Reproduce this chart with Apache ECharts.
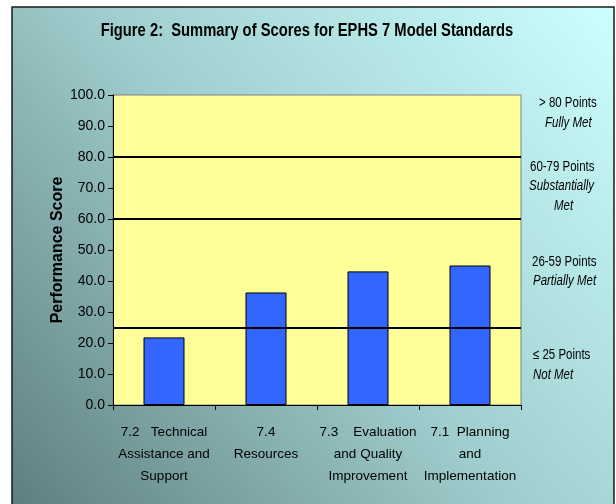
<!DOCTYPE html>
<html>
<head>
<meta charset="utf-8">
<script src="https://cdn.jsdelivr.net/npm/echarts@6/dist/echarts.min.js"></script>
<style>
html,body{margin:0;padding:0;background:#fff;}
#chart{width:616px;height:504px;}
</style>
</head>
<body>
<div id="chart"></div>
<script>
const titleText = 'Figure 2:  Summary of Scores for EPHS 7 Model Standards';
const categories = [
  '7.2   Technical\nAssistance and\nSupport',
  '7.4\nResources',
  '7.3    Evaluation\nand Quality\nImprovement',
  '7.1  Planning\nand\nImplementation'
];
const scores = [21.8, 36.3, 43.1, 45.0];
const thresholds = [25, 60, 80];
const yTicks = {min: 0, max: 100, interval: 10};
const yAxisName = 'Performance Score';
const bandNotes = [
  {text: '> 80 Points', italic: false, x: 539, y: 103},
  {text: 'Fully Met', italic: true, x: 545, y: 123},
  {text: '60-79 Points', italic: false, x: 530, y: 167},
  {text: 'Substantially', italic: true, x: 529, y: 186},
  {text: 'Met', italic: true, x: 554, y: 206},
  {text: '26-59 Points', italic: false, x: 532, y: 262},
  {text: 'Partially Met', italic: true, x: 533, y: 281},
  {text: '\u2264 25 Points', italic: false, x: 533, y: 355},
  {text: 'Not Met', italic: true, x: 533, y: 375}
];

const ARIAL = '"Liberation Sans", Arial, sans-serif';

const chart = echarts.init(document.getElementById('chart'), null, {renderer: 'canvas'});

const graphics = [{
  type: 'rect',
  z: -10,
  silent: true,
  shape: {x: 12, y: 7, width: 602, height: 510},
  style: {
    fill: new echarts.graphic.LinearGradient(0, 1, 1, 0, [
      {offset: 0, color: '#5d7d7d'},
      {offset: 0.5, color: '#a0cece'},
      {offset: 1, color: '#ccffff'}
    ]),
    stroke: '#1a1a1a',
    lineWidth: 1.5
  }
}, {
  type: 'text',
  silent: true,
  z: 10,
  x: 307, y: 31,
  scaleX: 0.82, scaleY: 1,
  style: {
    x: 0, y: 0,
    text: titleText,
    fill: '#000',
    font: 'bold 18px ' + ARIAL,
    textAlign: 'center',
    textVerticalAlign: 'middle'
  }
}];
bandNotes.forEach(n => {
  graphics.push({
    type: 'text',
    silent: true,
    z: 10,
    x: n.x, y: n.y,
    scaleX: 0.82, scaleY: 1,
    style: {
      x: 0, y: 0,
      text: n.text,
      fill: '#000',
      font: (n.italic ? 'italic ' : '') + '14px ' + ARIAL,
      textAlign: 'left',
      textVerticalAlign: 'middle'
    }
  });
});

chart.setOption({
  backgroundColor: '#ffffff',
  animation: false,
  graphic: graphics,
  grid: {
    left: 113, right: 95, top: 95, bottom: 99,
    show: true,
    backgroundColor: '#ffff99',
    borderColor: '#808080',
    borderWidth: 1
  },
  xAxis: {
    type: 'category',
    data: categories,
    boundaryGap: true,
    axisLine: {lineStyle: {color: '#000', width: 1}},
    axisTick: {show: true, alignWithLabel: false, length: 5, lineStyle: {color: '#000'}},
    axisLabel: {
      interval: 0, margin: 16, color: '#000',
      fontFamily: ARIAL, fontSize: 13.5, lineHeight: 22, align: 'center'
    },
    splitLine: {show: false}
  },
  yAxis: {
    type: 'value',
    min: yTicks.min, max: yTicks.max, interval: yTicks.interval,
    name: yAxisName,
    nameLocation: 'middle',
    nameGap: 47,
    nameMoveOverlap: false,
    nameTextStyle: {fontFamily: ARIAL, fontWeight: 'bold', fontSize: 16, color: '#000'},
    axisLine: {show: true, lineStyle: {color: '#000', width: 1}},
    axisTick: {show: true, length: 5, lineStyle: {color: '#000'}},
    axisLabel: {
      margin: 8, color: '#000', fontFamily: ARIAL, fontSize: 14,
      formatter: v => v.toFixed(1)
    },
    splitLine: {show: false}
  },
  series: [{
    type: 'bar',
    data: scores,
    barWidth: 41,
    itemStyle: {color: '#3366ff', borderColor: '#000', borderWidth: 1},
    markLine: {
      silent: true,
      symbol: ['none', 'none'],
      label: {show: false},
      lineStyle: {color: '#000', width: 2, type: 'solid'},
      data: thresholds.map(t => ({yAxis: t}))
    }
  }]
});
</script>
</body>
</html>
